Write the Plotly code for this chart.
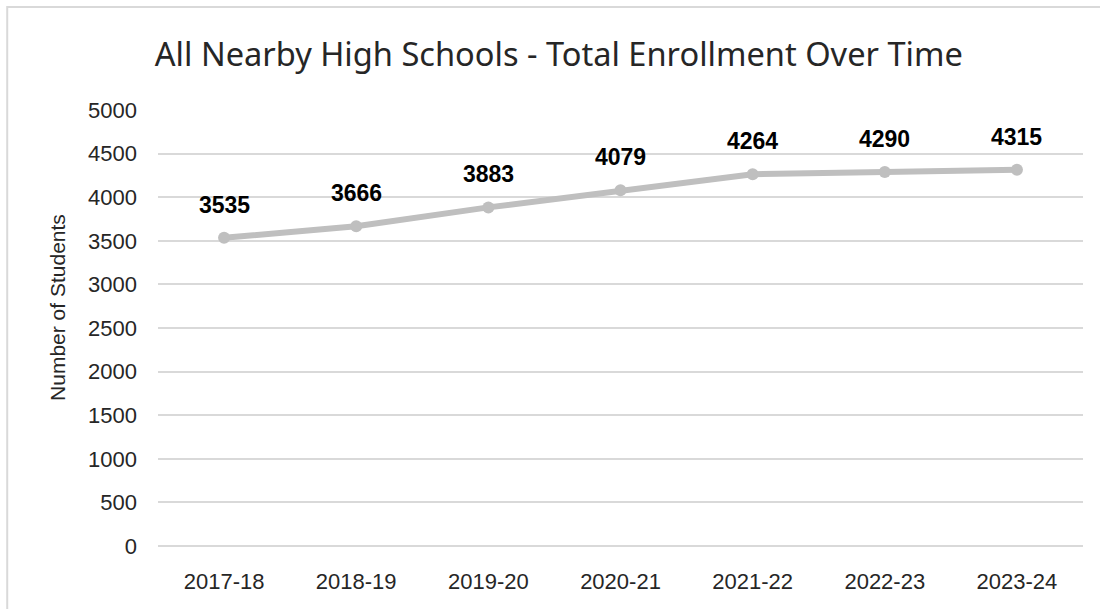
import plotly.graph_objects as go

years = ["2017-18", "2018-19", "2019-20", "2020-21", "2021-22", "2022-23", "2023-24"]
enrollment = [3535, 3666, 3883, 4079, 4264, 4290, 4315]
y_ticks = [0, 500, 1000, 1500, 2000, 2500, 3000, 3500, 4000, 4500, 5000]

title_text = "All Nearby High Schools - Total Enrollment Over Time"
y_title = "Number of Students"

fig = go.Figure()
fig.add_trace(go.Scatter(
    x=years, y=enrollment, mode="lines+markers",
    line=dict(color="#BFBFBF", width=6),
    marker=dict(color="#BFBFBF", size=12),
    hoverinfo="x+y", showlegend=False,
))

for yr, v in zip(years, enrollment):
    fig.add_annotation(x=yr, y=v, text=f"<b>{v}</b>", showarrow=False,
                       yshift=33, font=dict(family="Liberation Sans, Arial", size=23, color="#000000"))

fig.add_annotation(xref="paper", yref="paper", x=(58 - 158) / 925, y=0.546, text=y_title,
                   textangle=-90, showarrow=False, xanchor="center", yanchor="middle",
                   font=dict(family="Liberation Sans, Arial", size=21, color="#262626"))

fig.add_shape(type="rect", xref="paper", yref="paper", x0=-0.163, x1=1.2, y0=-0.3, y1=1.236,
              line=dict(color="#D9D9D9", width=2), fillcolor="rgba(0,0,0,0)", layer="below")

fig.update_layout(
    width=1100, height=609,
    margin=dict(l=158, r=17, t=110, b=63),
    paper_bgcolor="white", plot_bgcolor="white",
    title=dict(text=title_text, x=0.508, xanchor="center", y=1 - 55 / 609, yanchor="middle",
               yref="container", font=dict(family="Noto Sans", size=32.6, color="#262626")),
    xaxis=dict(type="category", range=[-0.5, 6.5], showgrid=False, showline=False, zeroline=False,
               ticks="", ticklabelstandoff=20,
               tickfont=dict(family="Liberation Sans, Arial", size=22, color="#262626")),
    yaxis=dict(range=[0, 5000], tickvals=y_ticks, showgrid=True, gridcolor="#D9D9D9", gridwidth=2,
               zeroline=True, zerolinecolor="#D9D9D9", zerolinewidth=2,
               showline=False, ticks="", ticklabelstandoff=20,
               tickfont=dict(family="Liberation Sans, Arial", size=22, color="#262626")),
)

fig.write_html("out.html", config={"displayModeBar": False},
               post_script="document.body.style.margin='0';document.body.style.overflow='hidden';")
